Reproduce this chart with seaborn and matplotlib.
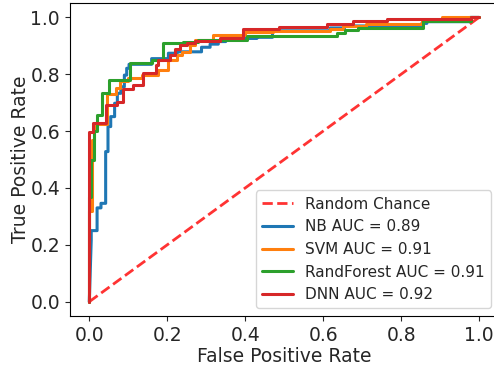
import matplotlib
matplotlib.use("Agg")
import matplotlib.pyplot as plt
import seaborn as sns
import pandas as pd

# ---- data ----
models = ["NB", "SVM", "RandForest", "DNN"]
auc_values = [0.89, 0.91, 0.91, 0.92]
colors = ["#1f77b4", "#ff7f0e", "#2ca02c", "#d62728"]

nb_fpr = [0, 0.005, 0.005, 0.02, 0.02, 0.03, 0.03, 0.042, 0.042, 0.048, 0.048, 0.055, 0.055,
          0.065, 0.065, 0.072, 0.072, 0.081, 0.081, 0.09, 0.09, 0.096, 0.096, 0.102, 0.102,
          0.16, 0.16, 0.203, 0.203, 0.225, 0.225, 0.288, 0.288, 0.31, 0.31, 0.331, 0.331,
          0.35, 0.35, 0.43, 0.43, 0.47, 0.47, 0.618, 0.618, 0.655, 0.655, 0.853, 0.853,
          0.866, 0.866, 0.977, 0.977, 1.0]
nb_tpr = [0, 0.217, 0.25, 0.25, 0.33, 0.33, 0.346, 0.346, 0.528, 0.528, 0.616, 0.616, 0.651,
          0.651, 0.698, 0.698, 0.733, 0.733, 0.756, 0.756, 0.797, 0.797, 0.821, 0.821, 0.835,
          0.835, 0.855, 0.855, 0.874, 0.874, 0.879, 0.879, 0.895, 0.895, 0.906, 0.906, 0.915,
          0.915, 0.926, 0.926, 0.93, 0.93, 0.953, 0.953, 0.963, 0.963, 0.97, 0.97, 0.979,
          0.979, 0.985, 0.985, 1.0, 1.0]

svm_fpr = [0, 0, 0.006, 0.006, 0.012, 0.012, 0.045, 0.045, 0.068, 0.068, 0.08, 0.08, 0.10,
           0.10, 0.135, 0.135, 0.177, 0.177, 0.203, 0.203, 0.224, 0.224, 0.237, 0.237, 0.258,
           0.258, 0.271, 0.271, 0.318, 0.318, 0.40, 0.40, 0.472, 0.472, 0.618, 0.618, 0.652,
           0.652, 0.71, 0.71, 0.853, 0.853, 0.904, 0.904, 1.0]
svm_tpr = [0, 0.32, 0.32, 0.57, 0.57, 0.625, 0.625, 0.73, 0.73, 0.75, 0.75, 0.775, 0.775,
           0.787, 0.787, 0.797, 0.797, 0.815, 0.815, 0.85, 0.85, 0.868, 0.868, 0.879, 0.879,
           0.903, 0.903, 0.921, 0.921, 0.938, 0.938, 0.949, 0.949, 0.953, 0.953, 0.96, 0.96,
           0.969, 0.969, 0.976, 0.976, 0.99, 0.99, 1.0, 1.0]

rf_fpr = [0, 0, 0.005, 0.005, 0.012, 0.012, 0.02, 0.02, 0.033, 0.033, 0.05, 0.05, 0.105,
          0.105, 0.16, 0.16, 0.19, 0.19, 0.24, 0.24, 0.28, 0.28, 0.404, 0.404, 0.635, 0.635,
          0.655, 0.655, 0.69, 0.69, 0.857, 0.857, 0.98, 0.98, 1.0]
rf_tpr = [0, 0.37, 0.37, 0.50, 0.50, 0.60, 0.60, 0.657, 0.657, 0.733, 0.733, 0.78, 0.78,
          0.84, 0.84, 0.85, 0.85, 0.91, 0.91, 0.915, 0.915, 0.919, 0.919, 0.934, 0.934, 0.945,
          0.945, 0.957, 0.957, 0.964, 0.964, 0.987, 0.987, 1.0, 1.0]

dnn_fpr = [0, 0, 0.009, 0.009, 0.043, 0.043, 0.072, 0.072, 0.086, 0.086, 0.113, 0.113, 0.137,
           0.137, 0.171, 0.171, 0.177, 0.177, 0.207, 0.207, 0.22, 0.22, 0.233, 0.233, 0.25,
           0.25, 0.271, 0.271, 0.335, 0.335, 0.395, 0.395, 0.488, 0.488, 0.609, 0.609, 0.677,
           0.677, 0.763, 0.763, 0.98, 0.98, 1.0]
dnn_tpr = [0, 0.598, 0.598, 0.627, 0.627, 0.692, 0.692, 0.703, 0.703, 0.747, 0.747, 0.762,
           0.762, 0.803, 0.803, 0.833, 0.833, 0.85, 0.85, 0.868, 0.868, 0.89, 0.89, 0.903,
           0.903, 0.909, 0.909, 0.918, 0.918, 0.926, 0.926, 0.959, 0.959, 0.966, 0.966, 0.977,
           0.977, 0.988, 0.988, 0.996, 0.996, 1.0, 1.0]

chance_x = [0.0, 1.0]
chance_y = [0.0, 1.0]

curves = [(nb_fpr, nb_tpr), (svm_fpr, svm_tpr), (rf_fpr, rf_tpr), (dnn_fpr, dnn_tpr)]

rows = []
for m, a, (f, t) in zip(models, auc_values, curves):
    label = f"{m} AUC = {a:.2f}"
    for i, (fx, ty) in enumerate(zip(f, t)):
        rows.append({"fpr": fx, "tpr": ty, "model": label, "idx": i})
df = pd.DataFrame(rows)
labels = [f"{m} AUC = {a:.2f}" for m, a in zip(models, auc_values)]

sns.set_style("ticks")
plt.rcParams["font.family"] = ["DejaVu Sans"]

W, H = 494, 367
fig = plt.figure(figsize=(W / 100, H / 100), dpi=100)
ax = fig.add_axes([69.8 / W, (H - 315.9) / H, 428.7 / W, 312.7 / H])

sns.lineplot(x=chance_x, y=chance_y, ax=ax, color="r", alpha=0.8, linestyle="--",
             linewidth=2, label="Random Chance")
sns.lineplot(data=df, x="fpr", y="tpr", hue="model", hue_order=labels,
             palette=colors, sort=False, estimator=None, linewidth=2.2, ax=ax)

ax.set_xlim(-0.05, 1.05)
ax.set_ylim(-0.05, 1.05)
ax.set_xticks([0, 0.2, 0.4, 0.6, 0.8, 1.0])
ax.set_yticks([0, 0.2, 0.4, 0.6, 0.8, 1.0])
ax.tick_params(labelsize=13.5, direction="out", length=3.5, width=0.8)
ax.set_xlabel("False Positive Rate", fontsize=13.5, labelpad=1.5)
ax.set_ylabel("True Positive Rate", fontsize=13.5, labelpad=0.5)
for s in ax.spines.values():
    s.set_linewidth(0.8)
    s.set_color("black")

handles, labs = ax.get_legend_handles_labels()
ax.legend(handles, labs, loc="lower right", fontsize=11, frameon=True)

fig.savefig("out.png", dpi=100)
